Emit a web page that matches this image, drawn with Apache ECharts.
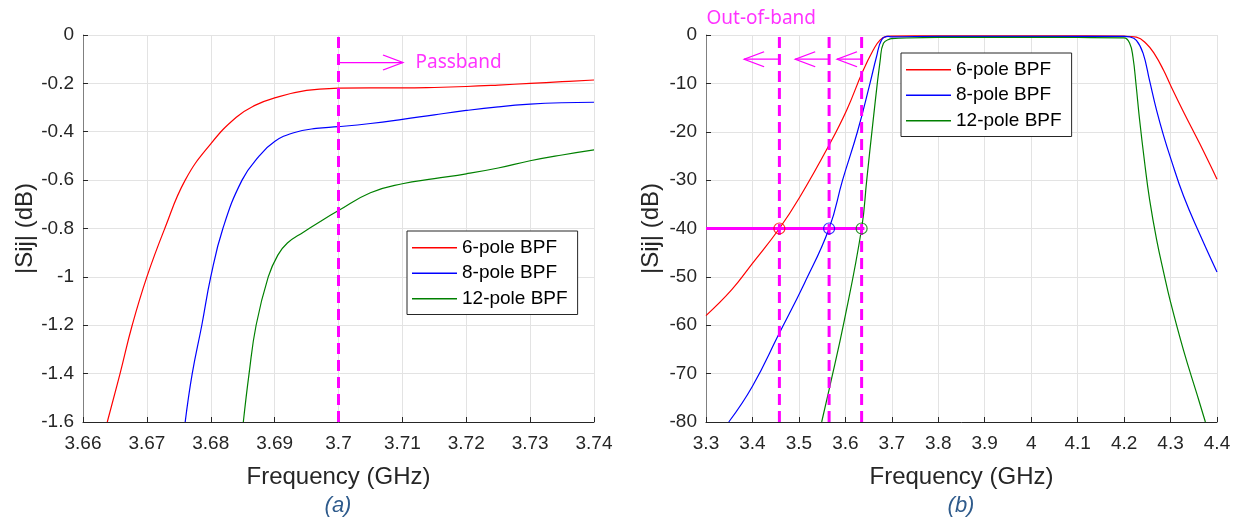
<!DOCTYPE html>
<html>
<head>
<meta charset="utf-8">
<script src="https://cdn.jsdelivr.net/npm/echarts@6/dist/echarts.min.js"></script>
<style>
  html, body { margin: 0; padding: 0; background: #fff; }
  #chart { width: 1237px; height: 518px; }
</style>
</head>
<body>
<div id="chart"></div>
<script>
// ---- panel (a): zoom on the lower passband edge ----
var freqA6 = [3.6638, 3.6658, 3.6677, 3.67, 3.6728, 3.676, 3.68, 3.684, 3.687, 3.69, 3.695, 3.70, 3.705, 3.71, 3.715, 3.72, 3.725, 3.73, 3.735, 3.74];
var valA6 = [-1.6, -1.4, -1.2, -1.0, -0.8, -0.6, -0.45, -0.34, -0.29, -0.26, -0.229, -0.22, -0.219, -0.219, -0.217, -0.213, -0.207, -0.2, -0.193, -0.186];
var freqA8 = [3.676, 3.6771, 3.6786, 3.68, 3.6819, 3.6849, 3.6876, 3.69, 3.693, 3.6965, 3.70, 3.705, 3.71, 3.715, 3.72, 3.725, 3.73, 3.735, 3.74];
var valA8 = [-1.6, -1.4, -1.2, -1.0, -0.8, -0.6, -0.5, -0.44, -0.404, -0.386, -0.379, -0.366, -0.349, -0.33, -0.312, -0.297, -0.286, -0.28, -0.278];
var freqA12 = [3.6851, 3.686, 3.6871, 3.689, 3.6905, 3.692, 3.6945, 3.6972, 3.70, 3.705, 3.71, 3.715, 3.72, 3.725, 3.73, 3.735, 3.74];
var valA12 = [-1.6, -1.4, -1.2, -1.0, -0.91, -0.86, -0.815, -0.77, -0.726, -0.652, -0.615, -0.594, -0.574, -0.55, -0.52, -0.496, -0.475];

// ---- panel (b): full response ----
var freqB6 = [3.3, 3.355, 3.4, 3.458, 3.502, 3.567, 3.603, 3.637, 3.66, 3.675, 3.689, 3.7, 3.8, 3.9, 4.0, 4.1, 4.2, 4.2265, 4.248, 4.266, 4.285, 4.3, 4.328, 4.363, 4.4];
var valB6 = [-58, -52.7, -47.2, -40, -33.5, -22.4, -15.5, -7.6, -3.1, -1.0, -0.3, -0.22, -0.18, -0.17, -0.17, -0.18, -0.25, -0.45, -1.8, -4.0, -7.3, -10.4, -15.9, -22.5, -29.8];
var freqB8 = [3.349, 3.4, 3.458, 3.512, 3.565, 3.594, 3.626, 3.653, 3.667, 3.678, 3.692, 3.7, 3.8, 3.9, 4.0, 4.1, 4.2, 4.212, 4.2265, 4.241, 4.255, 4.27, 4.285, 4.3, 4.328, 4.363, 4.4];
var valB8 = [-80, -72.6, -61.6, -51.3, -40, -30, -20, -10, -4.5, -1.0, -0.3, -0.38, -0.27, -0.27, -0.27, -0.27, -0.3, -0.4, -1.1, -3.8, -9.5, -15.6, -20.8, -25.4, -33.3, -41.2, -49];
var freqB12 = [3.549, 3.565, 3.598, 3.635, 3.646, 3.66, 3.675, 3.682, 3.696, 3.7, 3.8, 3.9, 4.0, 4.1, 4.2, 4.212, 4.219, 4.226, 4.233, 4.244, 4.255, 4.27, 4.285, 4.3, 4.328, 4.357, 4.375];
var valB12 = [-80, -73.3, -58.9, -40, -30, -17.5, -5.2, -1.7, -0.8, -0.73, -0.5, -0.5, -0.5, -0.52, -0.6, -1.7, -4.5, -10.5, -17.2, -26.2, -34.1, -42.3, -49.0, -55.2, -65.2, -74.3, -80];

var seriesNames = ['6-pole BPF', '8-pole BPF', '12-pole BPF'];
var seriesColors = ['#ff0000', '#0000ff', '#008000'];

// annotations (data units)
var passbandEdge = 3.7;
var passbandArrow = [3.7, 3.7101, -0.114];      // from, to, level
var rejectLevel = -40;
var rejectFreqs = [3.458, 3.565, 3.635];         // -40 dB crossing of each filter
var rejectLineEnd = 3.641;
var outArrowTips = [3.382, 3.492, 3.582];
var outArrowLevel = -5;

var tickFont = 'Liberation Sans, Arial, sans-serif';
var magenta = '#ff00ff';

function pairs(xs, ys) {
  var out = [];
  for (var i = 0; i < xs.length; i++) {
    out.push([xs[i], ys[i]]);
  }
  return out;
}

function numLabel(v) {
  return String(parseFloat(v.toFixed(2)));
}

function makeXAxis(idx, min, max, interval) {
  return {
    type: 'value', gridIndex: idx, min: min, max: max, interval: interval,
    name: 'Frequency (GHz)', nameLocation: 'middle', nameGap: 43,
    nameTextStyle: { fontFamily: tickFont, fontSize: 24, color: '#262626' },
    axisLine: { onZero: false, lineStyle: { color: '#262626', width: 1 } },
    axisTick: { inside: true, length: 5, lineStyle: { color: '#262626' } },
    axisLabel: { fontFamily: tickFont, fontSize: 19, color: '#262626', margin: 12, formatter: numLabel },
    splitLine: { show: true, lineStyle: { color: '#e3e3e3', width: 1 } }
  };
}

function makeYAxis(idx, min, max, interval, gap) {
  return {
    type: 'value', gridIndex: idx, min: min, max: max, interval: interval,
    name: '|Sij| (dB)', nameLocation: 'middle', nameGap: gap,
    nameTextStyle: { fontFamily: tickFont, fontSize: 24, color: '#262626' },
    axisLine: { onZero: false, lineStyle: { color: '#808080', width: 1 } },
    axisTick: { inside: true, length: 5, lineStyle: { color: '#262626' } },
    axisLabel: { fontFamily: tickFont, fontSize: 19, color: '#262626', margin: 9, formatter: numLabel },
    splitLine: { show: true, lineStyle: { color: '#e3e3e3', width: 1 } }
  };
}

function curve(idx, k, xs, ys) {
  return {
    name: seriesNames[k], type: 'line', xAxisIndex: idx, yAxisIndex: idx,
    data: pairs(xs, ys), symbol: 'none', smooth: 0.45,
    color: seriesColors[k], lineStyle: { color: seriesColors[k], width: 1.2 },
    silent: true, z: 3
  };
}

function dashed(idx, x, y0, y1) {
  return {
    type: 'line', xAxisIndex: idx, yAxisIndex: idx, data: [[x, y0], [x, y1]],
    symbol: 'none', silent: true, z: 4,
    lineStyle: { color: magenta, width: 3, type: [11, 6] }
  };
}

function arrow(idx, x0, x1, y, dir) {
  var head = dir > 0 ? 'path://M0,0L20,7.5L0,15' : 'path://M20,0L0,7.5L20,15';
  return {
    type: 'line', xAxisIndex: idx, yAxisIndex: idx, symbol: 'none', silent: true, z: 4,
    lineStyle: { color: magenta, width: 1.3 },
    data: [
      [x0, y],
      {
        value: [x1, y], symbol: head, symbolSize: [20, 15], symbolKeepAspect: false,
        symbolOffset: [dir > 0 ? -10 : 10, 0],
        itemStyle: { color: 'rgba(0,0,0,0)', borderColor: magenta, borderWidth: 1.3 }
      }
    ]
  };
}

function textMark(idx, x, y, text, offset) {
  return {
    type: 'scatter', xAxisIndex: idx, yAxisIndex: idx, clip: false, silent: true, z: 5,
    symbolSize: 1, itemStyle: { color: 'rgba(0,0,0,0)' },
    data: [[x, y]],
    label: {
      show: true, position: 'right', distance: 0, offset: offset, formatter: text,
      fontFamily: 'Noto Sans, Open Sans, sans-serif', fontSize: 19, color: magenta
    }
  };
}

function legendFor(left, top) {
  return {
    data: seriesNames, orient: 'vertical', left: left, top: top,
    icon: 'rect', itemWidth: 45, itemHeight: 1.5, itemGap: 6,
    padding: [7, 10, 6, 5],
    borderColor: '#262626', borderWidth: 1, backgroundColor: '#fff',
    textStyle: { fontFamily: tickFont, fontSize: 19, color: '#000', lineHeight: 19.5 },
    selectedMode: false
  };
}

var series = [
  curve(0, 0, freqA6, valA6),
  curve(0, 1, freqA8, valA8),
  curve(0, 2, freqA12, valA12),
  dashed(0, passbandEdge, -1.6, 0),
  arrow(0, passbandArrow[0], passbandArrow[1], passbandArrow[2], 1),
  textMark(0, passbandArrow[1], passbandArrow[2], 'Passband', [12, 0]),

  curve(1, 0, freqB6, valB6),
  curve(1, 1, freqB8, valB8),
  curve(1, 2, freqB12, valB12)
];
for (var i = 0; i < rejectFreqs.length; i++) {
  series.push(dashed(1, rejectFreqs[i], -80, 0));
  series.push(arrow(1, rejectFreqs[i], outArrowTips[i], outArrowLevel, -1));
}
series.push({
  type: 'line', xAxisIndex: 1, yAxisIndex: 1, symbol: 'none', silent: true, z: 4,
  data: [[3.3, rejectLevel], [rejectLineEnd, rejectLevel]],
  lineStyle: { color: magenta, width: 3 }
});
var circleData = [];
for (var j = 0; j < rejectFreqs.length; j++) {
  circleData.push({
    value: [rejectFreqs[j], rejectLevel],
    itemStyle: { color: 'rgba(0,0,0,0)', borderColor: seriesColors[j], borderWidth: 1.2 }
  });
}
series.push({
  type: 'scatter', xAxisIndex: 1, yAxisIndex: 1, symbol: 'circle', symbolSize: 11,
  silent: true, z: 6, data: circleData
});
series.push(textMark(1, 3.3, 0, 'Out-of-band', [0, -16]));

var option = {
  animation: false,
  backgroundColor: '#fff',
  grid: [
    { left: 83, top: 35, width: 511, height: 387 },
    { left: 706, top: 35, width: 511, height: 387 }
  ],
  xAxis: [makeXAxis(0, 3.66, 3.74, 0.01), makeXAxis(1, 3.3, 4.4, 0.1)],
  yAxis: [makeYAxis(0, -1.6, 0, 0.2, 40), makeYAxis(1, -80, 0, 10, 43)],
  legend: [legendFor(407, 231), legendFor(901, 53)],
  graphic: [
    { type: 'text', x: 338, y: 506, silent: true,
      style: { text: '(a)', fill: '#2f5b8c', align: 'center', verticalAlign: 'middle',
               font: 'italic 22px Liberation Sans, Arial, sans-serif' } },
    { type: 'text', x: 961, y: 506, silent: true,
      style: { text: '(b)', fill: '#2f5b8c', align: 'center', verticalAlign: 'middle',
               font: 'italic 22px Liberation Sans, Arial, sans-serif' } }
  ],
  series: series
};

var myChart = echarts.init(document.getElementById('chart'));
myChart.setOption(option);
</script>
</body>
</html>
